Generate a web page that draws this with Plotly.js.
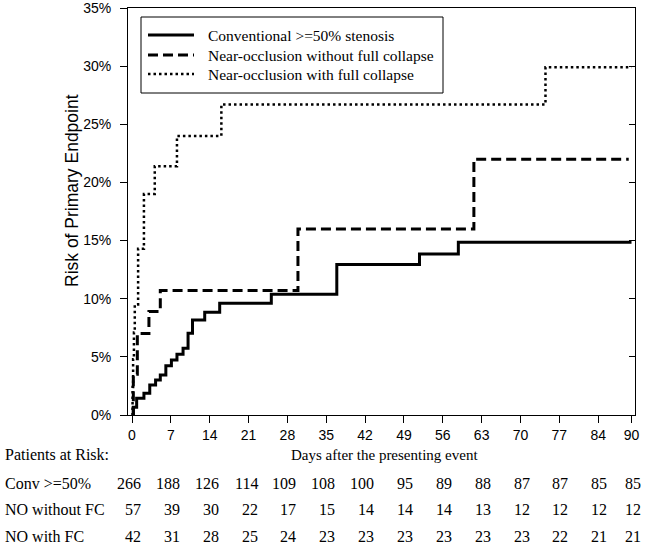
<!DOCTYPE html>
<html>
<head>
<meta charset="utf-8">
<script src="https://cdn.plot.ly/plotly-3.0.1.min.js"></script>
<style>html,body{margin:0;padding:0;background:#fff;}#chart{width:646px;height:545px;}</style>
</head>
<body>
<div id="chart"></div>
<script>
// ---- data (days, cumulative risk %) ----
var convDays = [0, 0.24, 0.84, 2.15, 3.2, 4.25, 5.1, 6.1, 7.1, 8.1, 9.2, 10.1, 10.9, 13.1, 15.8, 25.1, 36.9, 51.8, 58.8, 90];
var convRisk = [0, 0.66, 1.43, 1.87, 2.58, 3.0, 3.44, 4.24, 4.73, 5.22, 5.74, 7.03, 8.18, 8.84, 9.61, 10.39, 12.95, 13.85, 14.85, 14.85];

var noNoFcDays = [0, 0.24, 0.96, 3.05, 5.1, 29.9, 61.6, 89.5];
var noNoFcRisk = [0, 3.5, 7.0, 8.9, 10.7, 16.0, 22.0, 22.0];

var noFcDays = [0, 0.1, 0.2, 0.35, 0.5, 1.1, 2.15, 4.1, 8.1, 16.1, 74.5, 90];
var noFcRisk = [0, 2.4, 4.8, 7.1, 9.5, 14.3, 19.0, 21.4, 24.0, 26.7, 29.9, 29.9];

var seriesNames = ["Conventional >=50% stenosis", "Near-occlusion without full collapse", "Near-occlusion with full collapse"];

var riskDays = [0, 7, 14, 21, 28, 35, 42, 49, 56, 63, 70, 77, 84, 90];
var riskRowLabels = ["Conv >=50%", "NO without FC", "NO with FC"];
var riskConv = [266, 188, 126, 114, 109, 108, 100, 95, 89, 88, 87, 87, 85, 85];
var riskNoNoFc = [57, 39, 30, 22, 17, 15, 14, 14, 14, 13, 12, 12, 12, 12];
var riskNoFc = [42, 31, 28, 25, 24, 23, 23, 23, 23, 23, 23, 22, 21, 21];
var yTicks = [0, 5, 10, 15, 20, 25, 30, 35];

// ---- layout helpers ----
var W = 646, H = 545, mL = 128, mR = 11, mT = 8, mB = 130;
var plotW = W - mL - mR, plotH = H - mT - mB;
var x0px = 132, pxPerDay = 5.55;
var xRange = [(mL - x0px) / pxPerDay, (W - mR - x0px) / pxPerDay];
function px(pix) { return (pix - mL) / plotW; }
function py(pix) { return (H - mB - pix) / plotH; }
function dayPx(d) { return x0px + d * pxPerDay; }
var serif = "Liberation Serif, Times New Roman, serif";
var sans = "Liberation Sans, Arial, sans-serif";

var styles = [
  {color: "#000", width: 3},
  {color: "#000", width: 3, dash: "10px,5px"},
  {color: "#000", width: 2.5, dash: "2.5px,3px"}
];
var xs = [convDays, noNoFcDays, noFcDays], ys = [convRisk, noNoFcRisk, noFcRisk];
var traces = [];
for (var k = 0; k < 3; k++) {
  traces.push({x: xs[k], y: ys[k], name: seriesNames[k], mode: "lines", hoverinfo: "skip",
    line: Object.assign({shape: "hv"}, styles[k])});
}
// invisible trace to host the right-hand (inward tick) axis
traces.push({x: [null], y: [null], yaxis: "y2", mode: "lines", showlegend: false, hoverinfo: "skip"});

var annotations = [], shapes = [];
// legend box
shapes.push({type: "rect", xref: "paper", yref: "paper", x0: px(141), x1: px(443), y0: py(93), y1: py(17),
  line: {color: "#000", width: 1}, fillcolor: "#fff", layer: "below"});
var legY = [35, 55, 74];
for (var k = 0; k < 3; k++) {
  shapes.push({type: "line", xref: "paper", yref: "paper", x0: px(148), x1: px(194), y0: py(legY[k]), y1: py(legY[k]),
    line: styles[k]});
  annotations.push({xref: "paper", yref: "paper", x: px(206), y: py(legY[k]), text: seriesNames[k], showarrow: false,
    xanchor: "left", yanchor: "middle", font: {family: serif, size: 15.5, color: "#000"}});
}

annotations.push({xref: "paper", yref: "paper", x: px(72), y: py(191), text: "Risk of Primary Endpoint", textangle: -90,
  showarrow: false, font: {family: sans, size: 17.5, color: "#000"}, xanchor: "center", yanchor: "middle"});
annotations.push({xref: "paper", yref: "paper", x: px(384), y: py(455), text: "Days after the presenting event",
  showarrow: false, font: {family: serif, size: 15, color: "#000"}, xanchor: "center", yanchor: "middle"});
annotations.push({xref: "paper", yref: "paper", x: px(3), y: py(455), text: "Patients at Risk:",
  showarrow: false, font: {family: serif, size: 16, color: "#000"}, xanchor: "left", yanchor: "middle"});
var rows = [riskConv, riskNoNoFc, riskNoFc];
var rowY = [483, 510, 536];
for (var r = 0; r < rows.length; r++) {
  annotations.push({xref: "paper", yref: "paper", x: px(3), y: py(rowY[r]), text: riskRowLabels[r],
    showarrow: false, font: {family: serif, size: 16, color: "#000"}, xanchor: "left", yanchor: "middle"});
  for (var i = 0; i < riskDays.length; i++) {
    annotations.push({xref: "paper", yref: "paper", x: px(dayPx(riskDays[i]) + 11), y: py(rowY[r]), text: String(rows[r][i]),
      showarrow: false, font: {family: serif, size: 16, color: "#000"}, xanchor: "right", yanchor: "middle"});
  }
}

var layout = {
  width: W, height: H,
  margin: {l: mL, r: mR, t: mT, b: mB, pad: 0},
  paper_bgcolor: "#fff", plot_bgcolor: "#fff",
  showlegend: false,
  xaxis: {range: xRange, tickvals: riskDays, ticktext: riskDays.map(String), ticks: "outside", ticklen: 7,
    tickcolor: "#000", showline: true, linecolor: "#000", linewidth: 1, mirror: true, showgrid: false, zeroline: false,
    tickfont: {family: sans, size: 14, color: "#000"}, ticklabeloverflow: "allow"},
  yaxis: {range: [0, 35], tickvals: yTicks, ticktext: yTicks.map(function(v){return v + "%";}), ticks: "outside", ticklen: 7,
    tickcolor: "#000", showline: true, linecolor: "#000", linewidth: 1, mirror: true, showgrid: false, zeroline: false,
    tickfont: {family: sans, size: 14, color: "#000"}, ticklabelstandoff: 6, ticklabeloverflow: "allow"},
  yaxis2: {range: [0, 35], overlaying: "y", side: "right", tickvals: yTicks, ticks: "inside", ticklen: 6, tickcolor: "#000",
    showticklabels: false, showline: false, showgrid: false, zeroline: false},
  shapes: shapes,
  annotations: annotations
};

Plotly.newPlot("chart", traces, layout, {displayModeBar: false, staticPlot: true});
</script>
</body>
</html>
